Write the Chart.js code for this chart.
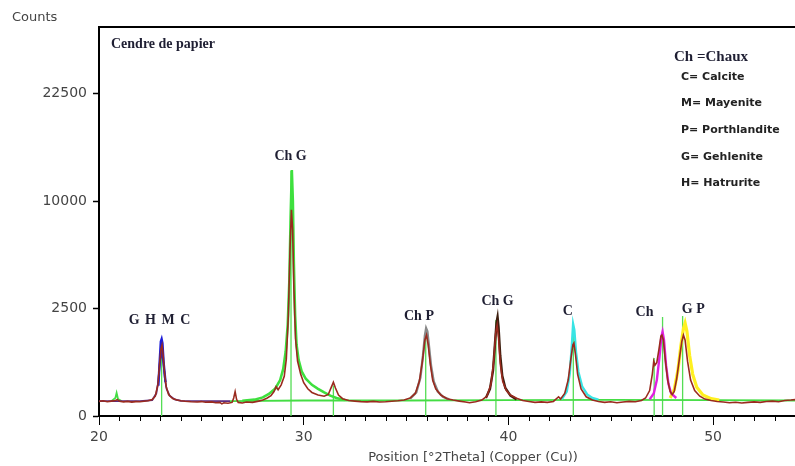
<!DOCTYPE html>
<html>
<head>
<meta charset="utf-8">
<script src="https://cdn.jsdelivr.net/npm/chart.js@4/dist/chart.umd.min.js"></script>
<style>
  html, body { margin: 0; background: #fff; }
  #wrap { width: 795px; height: 466px; position: relative; }
</style>
</head>
<body>
<div id="wrap"><canvas id="xrd"></canvas></div>
<script>
// measured pattern [2theta, counts]
const measured = [
  [20.0,46],[20.2,50],[20.4,44],[20.6,48],[20.8,52],[20.9,58],[21.0,47],[21.2,43],[21.4,46],[21.6,42],
  [21.8,45],[22.0,44],[22.2,47],[22.4,50],[22.6,58],[22.75,85],[22.88,220],[22.96,600],[23.02,950],[23.08,1090],
  [23.13,820],[23.2,420],[23.28,190],[23.4,100],[23.6,66],[23.8,55],[24.0,50],[24.2,47],[24.5,44],[24.8,42],
  [25.0,45],[25.2,41],[25.5,43],[25.7,38],[25.9,40],[26.0,32],[26.1,38],[26.3,35],[26.5,40],[26.58,70],
  [26.65,128],[26.72,60],[26.8,40],[27.0,37],[27.2,42],[27.5,40],[27.8,48],[28.0,55],[28.2,68],[28.4,90],
  [28.55,130],[28.65,186],[28.75,150],[28.9,210],[29.05,340],[29.15,700],[29.25,2200],[29.33,6000],[29.4,9200],[29.46,7500],
  [29.52,3500],[29.6,1300],[29.7,650],[29.85,380],[30.0,240],[30.2,160],[30.4,120],[30.7,95],[31.0,85],[31.2,100],
  [31.35,180],[31.45,246],[31.55,170],[31.7,95],[31.9,65],[32.2,52],[32.5,48],[32.8,45],[33.1,43],[33.4,46],
  [33.7,42],[34.0,44],[34.3,47],[34.6,50],[34.9,56],[35.2,70],[35.45,110],[35.65,260],[35.8,650],[35.92,1250],
  [36.0,1420],[36.08,1100],[36.18,600],[36.3,280],[36.45,160],[36.7,95],[37.0,65],[37.3,55],[37.6,48],[37.9,42],
  [38.1,38],[38.4,44],[38.7,55],[38.95,85],[39.15,220],[39.28,650],[39.38,1500],[39.45,1790],[39.52,1300],[39.6,600],
  [39.72,260],[39.9,140],[40.1,95],[40.4,68],[40.7,52],[41.0,46],[41.3,40],[41.6,43],[41.9,40],[42.2,46],
  [42.45,80],[42.55,62],[42.75,110],[42.92,280],[43.05,700],[43.15,1100],[43.2,1150],[43.28,800],[43.38,380],[43.55,160],
  [43.8,80],[44.1,55],[44.4,45],[44.7,40],[45.0,44],[45.3,38],[45.6,42],[45.9,46],[46.2,44],[46.5,52],
  [46.7,70],[46.9,140],[47.03,380],[47.1,650],[47.16,560],[47.25,620],[47.35,950],[47.45,1380],[47.5,1420],[47.57,1250],
  [47.66,700],[47.78,280],[47.9,130],[48.0,100],[48.1,130],[48.22,300],[48.35,700],[48.47,1200],[48.55,1420],[48.63,1250],
  [48.75,650],[48.9,280],[49.1,140],[49.35,85],[49.6,62],[49.9,52],[50.2,46],[50.5,42],[50.8,38],[51.1,41],
  [51.4,37],[51.7,40],[52.0,43],[52.3,40],[52.6,46],[52.9,48],[53.2,44],[53.5,52],[53.8,55],[54.0,58]
];

// phase profiles
const purpleBase = [[20.0,48],[22.0,48],[22.6,55],[22.8,110],[22.9,260],[22.97,600],[23.06,900],[23.15,600],[23.22,300],[23.3,160],[23.45,90],[23.7,60],[24.0,50],[26.4,48]];
const bluePeak = [[22.9,200],[22.97,700],[23.02,1200],[23.06,1280],[23.1,1150],[23.16,600],[23.25,250]];
const greenPeak = [[27.0,50],[27.6,58],[28.0,75],[28.3,105],[28.6,160],[28.85,280],[29.0,480],[29.12,900],[29.22,1800],[29.3,4000],[29.36,8500],[29.42,13100],[29.47,10000],[29.52,5000],[29.58,2200],[29.65,1100],[29.75,680],[29.9,430],[30.1,300],[30.4,210],[30.7,160],[31.0,120],[31.3,90],[31.6,70],[32.0,56]];
const greyPeak = [[35.2,65],[35.5,120],[35.7,320],[35.83,800],[35.92,1400],[35.98,1665],[36.04,1550],[36.12,1050],[36.22,550],[36.35,260],[36.55,130],[36.8,80],[37.1,60]];
const brownPeak = [[38.9,70],[39.1,160],[39.25,450],[39.35,1200],[39.42,1900],[39.47,2130],[39.52,1700],[39.6,800],[39.7,350],[39.85,170],[40.1,90],[40.4,60]];
const cyanPeak = [[42.6,60],[42.85,130],[43.0,400],[43.1,1100],[43.16,1830],[43.22,1600],[43.3,900],[43.42,420],[43.6,190],[43.85,100],[44.1,70],[44.4,58]];
const magentaPeak = [[46.9,60],[47.1,110],[47.25,280],[47.38,750],[47.47,1350],[47.53,1537],[47.6,1250],[47.7,560],[47.82,220],[47.95,110],[48.2,70]];
const yellowPeak = [[47.9,70],[48.1,150],[48.28,450],[48.42,1050],[48.55,1650],[48.63,1870],[48.72,1550],[48.85,800],[49.0,380],[49.2,180],[49.5,95],[49.9,65],[50.3,55]];
const greenBase = [[20.6,48],[20.8,70],[20.86,115],[20.93,62],[21.1,48],[21.2,null],[26.4,48],[30,52],[35,52],[40,54],[45,56],[50,54],[54,52]];

// reference sticks
const stickPos = [23.06, 29.38, 31.45, 35.96, 39.39, 43.17, 47.12, 47.53, 48.51];
const stickHeight = [1200, 13000, 200, 1600, 2000, 1800, 728, 2120, 2160];

const yTicks = [0, 2500, 10000, 22500];

const peakLabels = ['G H M C', 'Ch G', 'Ch P', 'Ch G', 'C', 'Ch', 'G P'];
const peakLabelX = [22.98, 29.36, 35.63, 39.47, 42.9, 46.65, 49.03];
const peakLabelY = [1960, 14620, 2134, 2827, 2353, 2325, 2480];

const legendTitle = 'Ch =Chaux';
const legendItems = ['C= Calcite', 'M= Mayenite', 'P= Porthlandite', 'G= Gehlenite', 'H= Hatrurite'];

// square-root count axis
class SqrtScale extends Chart.LinearScale {
  getPixelForValue(value) {
    if (value === null || isNaN(value)) return NaN;
    const lo = Math.sqrt(this.min), hi = Math.sqrt(this.max);
    return this.getPixelForDecimal((Math.sqrt(Math.max(value, 0)) - lo) / (hi - lo));
  }
  getValueForPixel(pixel) {
    const lo = Math.sqrt(this.min), hi = Math.sqrt(this.max);
    const s = lo + this.getDecimalForPixel(pixel) * (hi - lo);
    return s * s;
  }
}
SqrtScale.id = 'sqrt';
SqrtScale.defaults = Chart.LinearScale.defaults;
Chart.register(SqrtScale);

const pts = arr => arr.map(p => ({ x: p[0], y: p[1] }));

const sticks = [];
stickPos.forEach((p, i) => {
  sticks.push({ x: p, y: 0 }, { x: p, y: stickHeight[i] }, { x: p, y: null });
});

function line(data, color, width) {
  return { data: pts(data), borderColor: color, borderWidth: width, pointRadius: 0, tension: 0, fill: false };
}

const decor = {
  id: 'decor',
  afterDraw(chart) {
    const { ctx, chartArea, scales: { x, y } } = chart;
    ctx.save();
    ctx.strokeStyle = '#000';
    ctx.lineWidth = 2;
    ctx.beginPath();
    ctx.moveTo(chartArea.left - 1, chartArea.top);
    ctx.lineTo(chart.width, chartArea.top);
    ctx.stroke();

    // minor ticks on the 2theta axis
    ctx.lineWidth = 1;
    for (let v = 21; v <= 54; v++) {
      if (v % 10 === 0) continue;
      const px = Math.round(x.getPixelForValue(v)) + 0.5;
      ctx.beginPath();
      ctx.moveTo(px, chartArea.bottom);
      ctx.lineTo(px, chartArea.bottom + 5);
      ctx.stroke();
    }

    ctx.fillStyle = '#1f1f33';
    ctx.textAlign = 'center';
    ctx.textBaseline = 'middle';
    ctx.font = 'bold 14px "Liberation Serif"';
    peakLabels.forEach((t, i) => {
      ctx.letterSpacing = i === 0 ? '1px' : '0px';
      ctx.fillText(t, x.getPixelForValue(peakLabelX[i]), y.getPixelForValue(peakLabelY[i]));
    });
    ctx.letterSpacing = '0px';

    ctx.textAlign = 'left';
    ctx.fillText('Cendre de papier', 111, 44);
    ctx.font = 'bold 15px "Liberation Serif"';
    ctx.fillText(legendTitle, 674, 57);
    ctx.fillStyle = '#222';
    ctx.font = 'bold 11px "DejaVu Sans"';
    legendItems.forEach((t, i) => ctx.fillText(t, 681, 77 + i * 26.6));

    ctx.fillStyle = '#444';
    ctx.font = '13px "DejaVu Sans"';
    ctx.fillText('Counts', 12, 18);
    ctx.textAlign = 'center';
    ctx.fillText('Position [°2Theta] (Copper (Cu))', 473, 458);
    ctx.restore();
  }
};

new Chart(document.getElementById('xrd'), {
  type: 'line',
  data: {
    datasets: [
      line(measured, '#9a2a1e', 1.6),
      line(bluePeak, '#1c1cd8', 2.4),
      line(purpleBase, '#5a2a80', 1.8),
      line(greenPeak, '#3ee03e', 2.6),
      line(greyPeak, '#888888', 2.4),
      line(brownPeak, '#3d1f0f', 2.4),
      line(cyanPeak, '#38e4e4', 2.4),
      line(magentaPeak, '#e020e0', 2.4),
      line(yellowPeak, '#fff020', 3.2),
      line(greenBase, '#44dd44', 1.8),
      { data: sticks, borderColor: '#55dd55', borderWidth: 1.3, pointRadius: 0, spanGaps: false }
    ]
  },
  options: {
    responsive: true,
    maintainAspectRatio: false,
    animation: false,
    layout: { padding: { top: 27, right: 0, left: 0, bottom: 0 } },
    plugins: { legend: { display: false }, tooltip: { enabled: false } },
    scales: {
      x: {
        type: 'linear',
        min: 20,
        max: 54,
        afterFit: s => { s.height = 50; s.paddingRight = 0; s.paddingLeft = 0; },
        border: { display: true, color: '#000', width: 2 },
        grid: {
          drawOnChartArea: false,
          tickLength: 9,
          tickWidth: 1,
          tickColor: c => (c.tick && c.tick.value % 10 === 0 ? '#000' : 'rgba(0,0,0,0)')
        },
        ticks: {
          stepSize: 1,
          autoSkip: false,
          maxRotation: 0,
          padding: 4,
          color: '#444',
          font: { family: 'DejaVu Sans', size: 14 },
          callback: v => (v % 10 === 0 ? String(v) : '')
        }
      },
      y: {
        type: 'sqrt',
        min: 0,
        max: 32760,
        afterFit: s => { s.width = 99; },
        afterBuildTicks: s => { s.ticks = yTicks.map(v => ({ value: v })); },
        border: { display: true, color: '#000', width: 2 },
        grid: { drawOnChartArea: false, tickLength: 6, tickColor: '#000', tickWidth: 1.5 },
        ticks: {
          padding: 6,
          color: '#444',
          font: { family: 'DejaVu Sans', size: 14 },
          callback: v => String(v)
        }
      }
    }
  },
  plugins: [decor]
});
</script>
</body>
</html>
